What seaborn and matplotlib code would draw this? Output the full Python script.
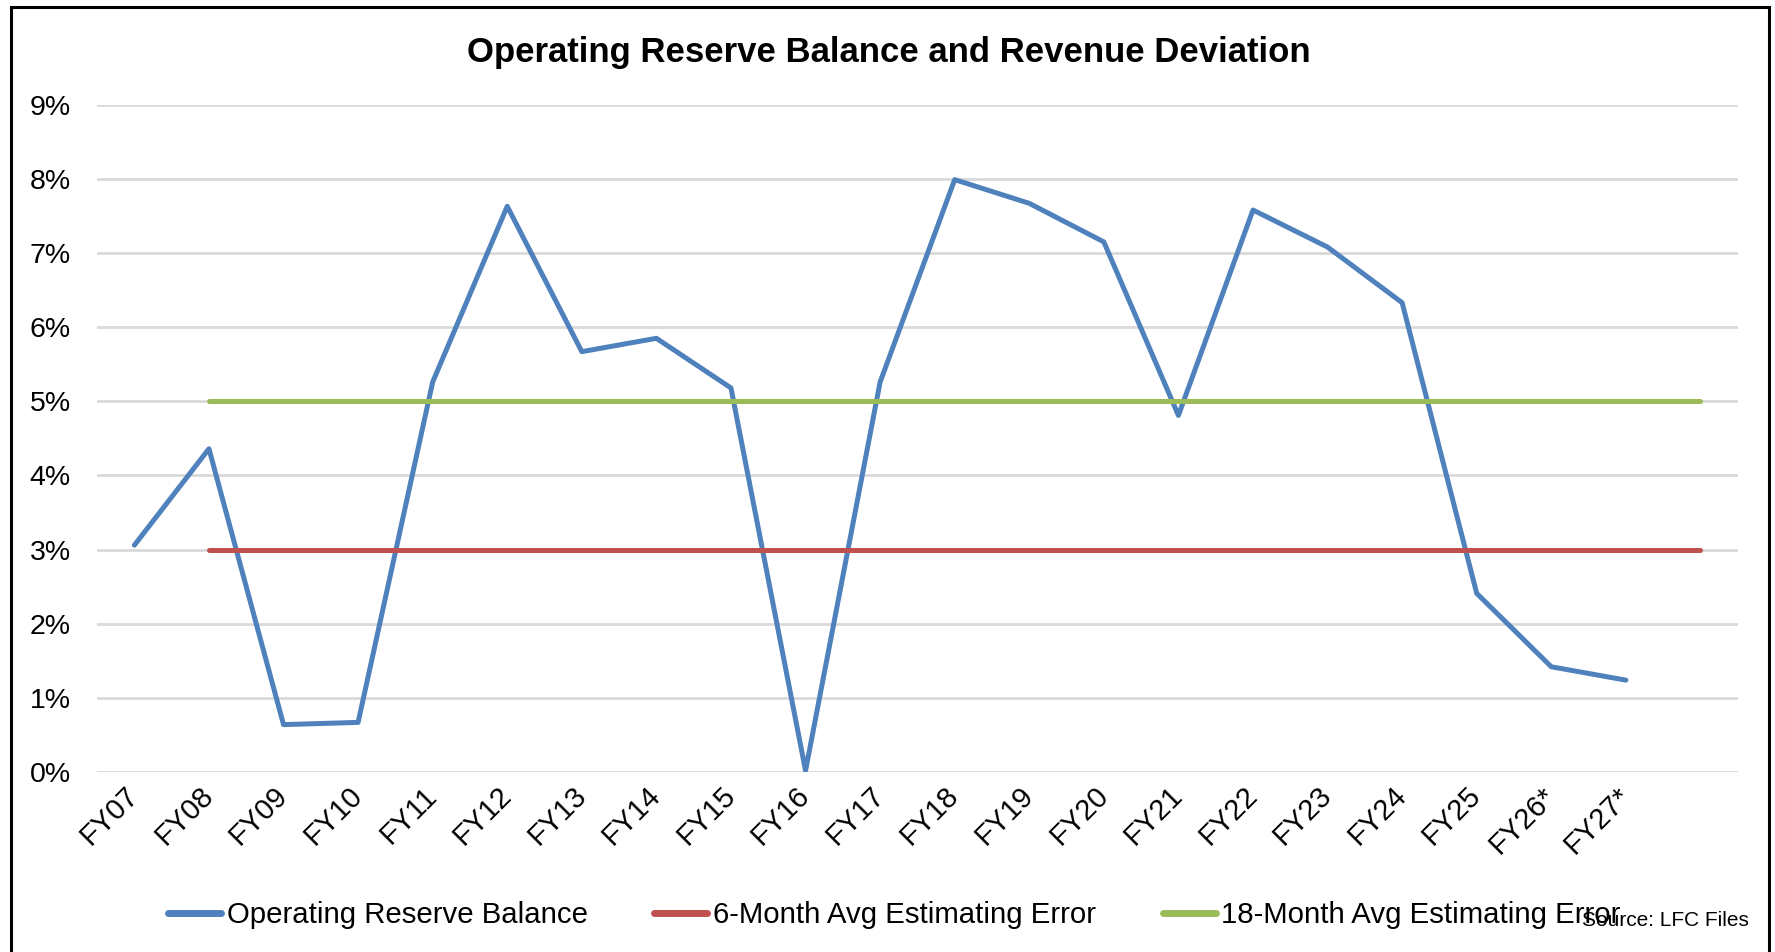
import numpy as np
import pandas as pd
import matplotlib.pyplot as plt
import seaborn as sns
from matplotlib.patches import Rectangle
from matplotlib.ticker import FuncFormatter

years = ["FY07", "FY08", "FY09", "FY10", "FY11", "FY12", "FY13", "FY14", "FY15", "FY16",
         "FY17", "FY18", "FY19", "FY20", "FY21", "FY22", "FY23", "FY24", "FY25", "FY26*", "FY27*"]
reserve_balance = [3.06, 4.36, 0.64, 0.67, 5.26, 7.63, 5.67, 5.85, 5.18, 0.02,
                   5.26, 7.99, 7.67, 7.15, 4.81, 7.58, 7.08, 6.33, 2.41, 1.42, 1.24]
# the benchmark lines start at FY08 and run one slot past FY27*
bench_years = years[1:] + [""]
six_month_err = [3.0] * len(bench_years)
eighteen_month_err = [5.0] * len(bench_years)

series_names = ["Operating Reserve Balance", "6-Month Avg Estimating Error", "18-Month Avg Estimating Error"]
colors = ["#4F81BD", "#C0504D", "#9BBB59"]

df = pd.concat([
    pd.DataFrame({"year": years, "value": reserve_balance, "series": series_names[0]}),
    pd.DataFrame({"year": bench_years, "value": six_month_err, "series": series_names[1]}),
    pd.DataFrame({"year": bench_years, "value": eighteen_month_err, "series": series_names[2]}),
], ignore_index=True)

sns.set_theme(style="white")
plt.rcParams["font.family"] = ["Liberation Sans", "DejaVu Sans"]
plt.rcParams["text.color"] = "black"
plt.rcParams["xtick.color"] = "black"
plt.rcParams["ytick.color"] = "black"

fig = plt.figure(figsize=(17.75, 9.52), dpi=100)
ax = fig.add_axes([0.0547, 0.189, 0.9243, 0.701])

sns.lineplot(data=df, x="year", y="value", hue="series", hue_order=series_names,
             palette=colors, linewidth=3.6, sort=False, ax=ax, legend=True)

ax.set_ylim(0, 9)
ax.set_xlim(-0.5, len(bench_years) + 0.5)
ax.set_yticks(range(0, 10))
ax.yaxis.set_major_formatter(FuncFormatter(lambda v, _: f"{v:.0f}%"))
ax.grid(axis="y", color="#d9d9d9", linewidth=2)
ax.set_axisbelow(True)
for s in ax.spines.values():
    s.set_visible(False)
ax.tick_params(axis="y", length=0, pad=19, labelsize=20.5)
ax.tick_params(axis="x", length=0, pad=14, labelsize=21)
ax.set_xticks(range(len(years)))
ax.set_xticklabels(years, rotation=45, ha="right", va="center", rotation_mode="anchor")
ax.set_xlabel("")
ax.set_ylabel("")

fig.text(0.501, 0.945, "Operating Reserve Balance and Revenue Deviation",
         ha="center", va="center", fontsize=25, fontweight="bold")

leg = ax.legend(loc="center", bbox_to_anchor=(0.504, 0.039), bbox_transform=fig.transFigure,
                ncol=3, frameon=False, fontsize=21.2, handlelength=1.8, columnspacing=2.25,
                handletextpad=0.2)
for line in leg.get_lines():
    line.set_linewidth(5)
    line.set_solid_capstyle("round")

fig.text(0.985, 0.033, "Source: LFC Files", ha="right", va="center", fontsize=15)

fig.patches.append(Rectangle((0.0062, -0.05), 0.9904, 1.043, transform=fig.transFigure,
                             fill=False, edgecolor="black", linewidth=2.2))

fig.savefig("out.png", dpi=100)
